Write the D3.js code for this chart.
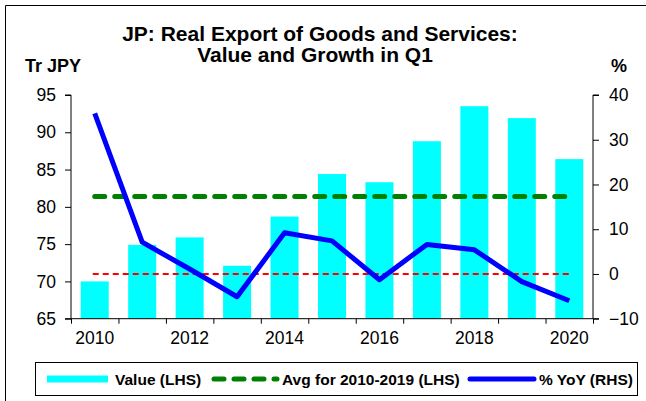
<!DOCTYPE html>
<html lang="en">
<head>
  <meta charset="UTF-8">
  <script src="https://d3js.org/d3.v7.min.js"></script>
  <style>
    body { margin: 0; background: #fff; font-family: Arial, "Liberation Sans", sans-serif; }
    svg text { fill: #000; }
  </style>
</head>
<body>
<div id="chart"></div>
<script>
// values
const years = ['2010', '2011', '2012', '2013', '2014', '2015', '2016', '2017', '2018', '2019', '2020'];
const exportValue = [70.0, 74.9, 75.9, 72.1, 78.7, 84.4, 83.3, 88.8, 93.5, 91.9, 86.4];
const yoyGrowth = [35.9, 7.1, 1.1, -5.1, 9.2, 7.4, -1.3, 6.6, 5.4, -1.7, -6.0];
const avgValue = 81.4;
const yLeftTicks = [65, 70, 75, 80, 85, 90, 95];
const yRightTicks = [-10, 0, 10, 20, 30, 40];
const xLabelYears = ['2010', '2012', '2014', '2016', '2018', '2020'];

const width = 646, height = 401;
const plot = { left: 71, right: 593, top: 95, bottom: 318.7 };

const svg = d3.select('#chart').append('svg')
  .attr('width', width)
  .attr('height', height);

// outer frame (only top and left edges show in the crop)
svg.append('path')
  .attr('d', `M5.5,${height} V5.5 H${width}`)
  .attr('fill', 'none')
  .attr('stroke', '#000')
  .attr('stroke-width', 1);

const x = d3.scaleBand()
  .domain(years)
  .range([plot.left, plot.right])
  .paddingInner(0.41)
  .paddingOuter(0.205);

const xEdge = d3.scaleLinear().domain([0, years.length]).range([plot.left, plot.right]);

const yL = d3.scaleLinear().domain([65, 95]).range([plot.bottom, plot.top]);
const yR = d3.scaleLinear().domain([-10, 40]).range([plot.bottom, plot.top]);

const cx = d => x(d) + x.bandwidth() / 2;

// bars
svg.append('g').selectAll('rect')
  .data(years)
  .enter()
  .append('rect')
  .attr('x', d => x(d))
  .attr('y', (d, i) => yL(exportValue[i]))
  .attr('width', x.bandwidth())
  .attr('height', (d, i) => yL(65) - yL(exportValue[i]))
  .attr('fill', '#00ffff');

// zero line for growth (red dashed)
svg.append('line')
  .attr('x1', cx(years[0]) - 2).attr('x2', cx(years[years.length - 1]) + 2)
  .attr('y1', yR(0)).attr('y2', yR(0))
  .attr('stroke', '#ff0000')
  .attr('stroke-width', 2)
  .attr('stroke-dasharray', '6,4');

// average line
svg.append('line')
  .attr('x1', cx(years[0])).attr('x2', cx(years[years.length - 1]))
  .attr('y1', yL(avgValue)).attr('y2', yL(avgValue))
  .attr('stroke', '#008000')
  .attr('stroke-width', 5)
  .attr('stroke-linecap', 'round')
  .attr('stroke-dasharray', '10,10');

// growth line
const line = d3.line()
  .x((d, i) => cx(years[i]))
  .y(d => yR(d));

svg.append('path')
  .datum(yoyGrowth)
  .attr('d', line)
  .attr('fill', 'none')
  .attr('stroke', '#0000ff')
  .attr('stroke-width', 5)
  .attr('stroke-linejoin', 'round');

// axes
const tickFont = g => g.selectAll('text')
  .attr('font-size', 17.5)
  .attr('font-family', 'Arial, "Liberation Sans", sans-serif');

svg.append('g')
  .attr('transform', `translate(${plot.left},0)`)
  .call(d3.axisLeft(yL).tickValues(yLeftTicks).tickSize(6).tickPadding(9))
  .call(tickFont)
  .call(g => g.select('.domain').attr('d', `M-6,${plot.top}H0V${plot.bottom}H-6`));

svg.append('g')
  .attr('transform', `translate(${plot.right},0)`)
  .call(d3.axisRight(yR).tickValues(yRightTicks).tickSize(6).tickPadding(10))
  .call(tickFont)
  .call(g => g.select('.domain').attr('d', `M6,${plot.top}H0V${plot.bottom}H6`));

// x tick marks on band edges
svg.append('g')
  .attr('transform', `translate(0,${plot.bottom})`)
  .call(d3.axisBottom(xEdge).tickValues(d3.range(0, years.length + 1)).tickSize(5).tickFormat(''))
  .call(g => g.select('.domain').attr('d', `M${plot.left},0H${plot.right}`));

// x labels at band centres
svg.append('g')
  .attr('transform', `translate(0,${plot.bottom})`)
  .call(d3.axisBottom(x).tickValues(xLabelYears).tickSize(0).tickPadding(13))
  .call(tickFont)
  .call(g => g.select('.domain').remove());

// titles
svg.append('text')
  .attr('x', 320).attr('y', 41)
  .attr('text-anchor', 'middle')
  .attr('font-size', 21).attr('font-weight', 'bold')
  .text('JP: Real Export of Goods and Services:');

svg.append('text')
  .attr('x', 315).attr('y', 62)
  .attr('text-anchor', 'middle')
  .attr('font-size', 21).attr('font-weight', 'bold')
  .text('Value and Growth in Q1');

svg.append('text')
  .attr('x', 25).attr('y', 72)
  .attr('font-size', 18).attr('font-weight', 'bold')
  .text('Tr JPY');

svg.append('text')
  .attr('x', 611).attr('y', 72)
  .attr('font-size', 18).attr('font-weight', 'bold')
  .text('%');

// legend
const legend = svg.append('g');
legend.append('rect')
  .attr('x', 35.5).attr('y', 362.5)
  .attr('width', 602).attr('height', 33)
  .attr('fill', '#fff')
  .attr('stroke', '#000');

const legendY = 379;
legend.append('rect')
  .attr('x', 47).attr('y', legendY - 3.5)
  .attr('width', 61).attr('height', 7)
  .attr('fill', '#00ffff');

legend.append('line')
  .attr('x1', 214).attr('x2', 277)
  .attr('y1', legendY).attr('y2', legendY)
  .attr('stroke', '#008000')
  .attr('stroke-width', 5)
  .attr('stroke-linecap', 'round')
  .attr('stroke-dasharray', '10,10');

legend.append('line')
  .attr('x1', 470).attr('x2', 534)
  .attr('y1', legendY).attr('y2', legendY)
  .attr('stroke', '#0000ff')
  .attr('stroke-width', 5)
  .attr('stroke-linecap', 'round');

const legendItems = [
  { label: 'Value (LHS)', x: 115 },
  { label: 'Avg for 2010-2019 (LHS)', x: 282 },
  { label: '% YoY (RHS)', x: 539 }
];

legend.selectAll('text.item')
  .data(legendItems)
  .enter()
  .append('text')
  .attr('class', 'item')
  .attr('x', d => d.x)
  .attr('y', legendY + 5.5)
  .attr('font-size', 15.5)
  .attr('font-weight', 'bold')
  .text(d => d.label);
</script>
</body>
</html>
